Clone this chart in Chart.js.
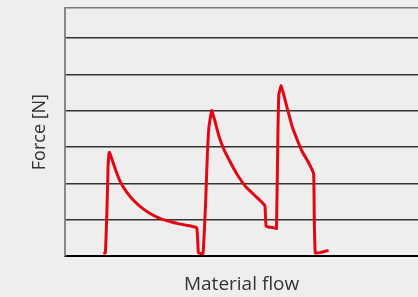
<!DOCTYPE html>
<html>
<head>
<meta charset="utf-8">
<script src="https://cdn.jsdelivr.net/npm/chart.js@4"></script>
<style>
  html, body { margin: 0; padding: 0; background: #eeeeee; }
  #wrap { width: 418px; height: 297px; position: relative; }
</style>
</head>
<body>
<div id="wrap"><canvas id="chart"></canvas></div>
<script>
// material flow position (arbitrary units) and measured force
const flowX = [38.3, 40.3, 42, 43, 44.3, 47, 51, 56, 61, 67.7, 76, 84.3, 94.3, 104.3,
    114.3, 124.3, 132, 133.7, 138.3,
    141, 142.7, 144.3, 147, 150.3, 154.3, 159.3, 166, 172.7, 181, 191, 200.3,
    201.7, 210.3, 212,
    213.3, 214.3, 216.7, 219.3, 222.7, 227.7, 232.7, 237.7, 244.3, 249.3,
    251, 264.3];
const forceY = [0.07, 0.09, 1.37, 2.47, 2.86, 2.66, 2.34, 2.01, 1.79, 1.56, 1.35, 1.19, 1.05, 0.96,
    0.89, 0.84, 0.78, 0.09, 0.07,
    1.56, 2.84, 3.57, 4.01, 3.71, 3.30, 2.93, 2.57, 2.24, 1.92, 1.65, 1.39,
    0.82, 0.78, 0.76,
    3.16, 4.44, 4.70, 4.44, 4.08, 3.57, 3.21, 2.88, 2.57, 2.26,
    0.09, 0.16];
const yTicks = [0, 1, 2, 3, 4, 5, 6, 6.83];
const xMax = 354;

const points = flowX.map((x, i) => ({ x: x, y: forceY[i] }));

const family = '"Open Sans", sans-serif';

new Chart(document.getElementById('chart'), {
    type: 'line',
    data: {
        datasets: [{
            data: points,
            borderColor: '#e30613',
            borderWidth: 3,
            pointRadius: 0,
            fill: false,
            tension: 0.1
        }]
    },
    options: {
        responsive: true,
        maintainAspectRatio: false,
        animation: false,
        layout: { padding: { top: 8, right: 0, bottom: 0, left: 0 } },
        plugins: { legend: { display: false }, tooltip: { enabled: false } },
        scales: {
            x: {
                type: 'linear',
                min: 0,
                max: xMax,
                grid: { display: false, drawTicks: false },
                border: { display: true, color: '#000', width: 2 },
                ticks: { display: false },
                title: {
                    display: true,
                    text: 'Material flow',
                    color: '#333',
                    font: { family: family, size: 19 },
                    padding: { top: 16.5, bottom: 1.5 }
                }
            },
            y: {
                min: 0,
                max: 6.83,
                afterBuildTicks: scale => { scale.ticks = yTicks.map(v => ({ value: v })); },
                grid: {
                    drawTicks: false,
                    lineWidth: 1.5,
                    color: ctx => (ctx.tick && ctx.tick.value === 6.83) ? '#777' : '#333'
                },
                border: { display: true, color: '#888', width: 2 },
                ticks: { display: false },
                title: {
                    display: true,
                    text: 'Force [N]',
                    color: '#333',
                    font: { family: family, size: 18 },
                    padding: { top: 29.5, bottom: 14.1 }
                }
            }
        }
    }
});
</script>
</body>
</html>
